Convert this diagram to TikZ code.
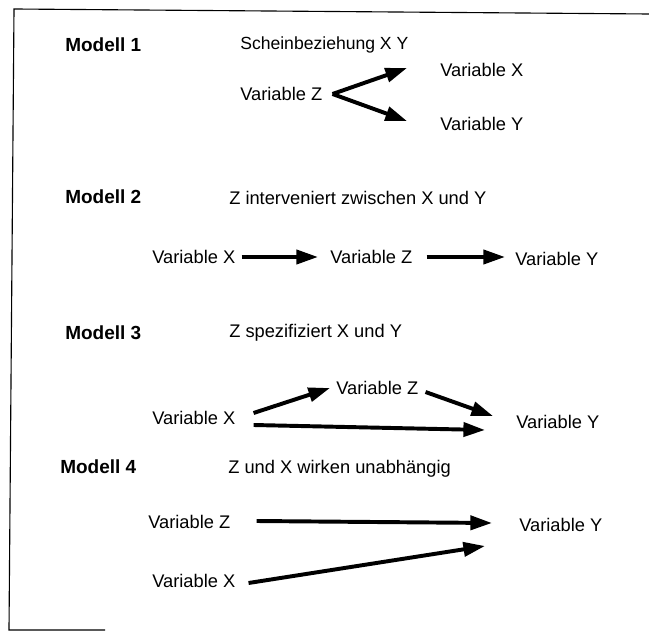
\documentclass[tikz,border=0pt]{standalone}
\usepackage{fontspec}
\setmainfont{Liberation Sans}
\usetikzlibrary{arrows.meta}
\begin{document}
\begin{tikzpicture}[x=0.025cm,y=-0.025cm,
  every node/.style={inner sep=0pt,anchor=west,font=\fontsize{13}{15}\selectfont},
  modell/.style={font=\fontsize{13.5}{15}\selectfont\bfseries},
  pfeil/.style={line width=2.8pt,-{Triangle[length=0.54cm,width=0.35cm]}}]
  \useasboundingbox (0,0) rectangle (649,635);
  \draw[line width=0.8pt] (105,630) -- (9,630) -- (14,9) -- (649,14);

  \node[modell] (m1) at (65,45) {Modell 1};
  \node[font=\fontsize{12.5}{15}\selectfont] (t1) at (240,45) {Scheinbeziehung X Y};
  \node (z1) at (240,94) {Variable Z};
  \node (x1) at (440,70) {Variable X};
  \node (y1) at (440,124) {Variable Y};
  \draw[pfeil] ([shift={(10,0)}]z1.east) -- ([shift={(-33,-2)}]x1.west);
  \draw[pfeil] ([shift={(10,0)}]z1.east) -- ([shift={(-33,-3)}]y1.west);

  \node[modell] (m2) at (65,197) {Modell 2};
  \node (t2) at (229,198) {Z interveniert zwischen X und Y};
  \node (x2) at (152,257) {Variable X};
  \node (z2) at (330,257) {Variable Z};
  \node (y2) at (515,259) {Variable Y};
  \draw[pfeil] ([shift={(6,0)}]x2.east) -- ([shift={(-12,0)}]z2.west);
  \draw[pfeil] ([shift={(14,0)}]z2.east) -- ([shift={(-10,-2)}]y2.west);

  \node[modell] (m3) at (65,333) {Modell 3};
  \node (t3) at (229,333) {Z spezifiziert X und Y};
  \node (z3) at (336,388) {Variable Z};
  \node (x3) at (152,418) {Variable X};
  \node (y3) at (516,422) {Variable Y};
  \draw[pfeil] ([shift={(18,-5)}]x3.east) -- ([shift={(-6,0)}]z3.west);
  \draw[pfeil] ([shift={(7,4)}]z3.east) -- ([shift={(-23,-6)}]y3.west);
  \draw[pfeil] ([shift={(18,7)}]x3.east) -- ([shift={(-31,8)}]y3.west);

  \node[modell] (m4) at (60,467) {Modell 4};
  \node (t4) at (228,469) {Z und X wirken unabhängig};
  \node (z4) at (148,522) {Variable Z};
  \node (y4) at (519,525) {Variable Y};
  \node (x4) at (152,581) {Variable X};
  \draw[pfeil] ([shift={(26,-1)}]z4.east) -- ([shift={(-27,-2)}]y4.west);
  \draw[pfeil] ([shift={(13,2)}]x4.east) -- ([shift={(-34,21)}]y4.west);
\end{tikzpicture}
\end{document}
